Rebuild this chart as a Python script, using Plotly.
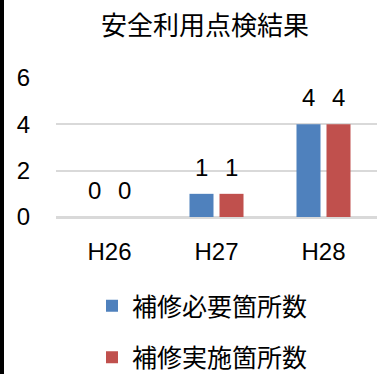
import plotly.graph_objects as go

categories = ["H26", "H27", "H28"]
series_names = ["補修必要箇所数", "補修実施箇所数"]
need_values = [0, 1, 4]
done_values = [0, 1, 4]
y_ticks = [0, 2, 4, 6]
title_text = "安全利用点検結果"

colors = ["#4F81BD", "#C0504D"]
label_font = "Liberation Sans, Arial, sans-serif"
cjk_font = "Noto Sans CJK JP, sans-serif"

W, H = 383, 374
ML, MR, MT, MB = 56, 6, 78, 157
PW, PH = W - ML - MR, H - MT - MB

fig = go.Figure()
for i, (name, vals) in enumerate(zip(series_names, [need_values, done_values])):
    fig.add_trace(go.Bar(
        x=categories, y=vals, name=name,
        marker=dict(color=colors[i], line=dict(width=0)),
        legendgroup=name,
    ))

# data labels above bars
for i, vals in enumerate([need_values, done_values]):
    for c, v in zip(categories, vals):
        fig.add_annotation(
            x=c, y=v, text=str(v), showarrow=False,
            xshift=-15 if i == 0 else 15, yshift=11,
            yanchor="bottom", xanchor="center",
            font=dict(family=label_font, size=24, color="#000000"),
        )

# left black border of the frame
fig.add_shape(type="rect", xref="paper", yref="paper",
              x0=-(ML + 20) / PW, x1=-(ML - 4) / PW,
              y0=-(MB + 20) / PH, y1=1 + (MT + 20) / PH,
              fillcolor="#000000", line=dict(width=0), layer="above")

fig.update_layout(
    template="none",
    width=W, height=H,
    margin=dict(l=ML, r=MR, t=MT, b=MB, autoexpand=False),
    paper_bgcolor="#ffffff", plot_bgcolor="#ffffff",
    barmode="group", bargap=0.439, bargroupgap=0.2,
    title=dict(text=title_text, x=205/W, xanchor="center",
               xref="container", y=1-26/H, yanchor="middle", yref="container",
               font=dict(family=cjk_font, size=26, color="#000000")),
    showlegend=True,
    legend=dict(
        x=(92 - ML) / PW, xanchor="left", y=-(283 - (MT + PH)) / PH, yanchor="top",
        font=dict(family=cjk_font, size=25, color="#000000"),
        traceorder="grouped", tracegroupgap=16, orientation="v",
        bgcolor="rgba(0,0,0,0)", borderwidth=0,
    ),
    xaxis=dict(
        showgrid=False, showline=False, zeroline=False, automargin=False,
        tickfont=dict(family=label_font, size=24, color="#000000"),
        ticks="", ticklabelstandoff=18,
    ),
    yaxis=dict(
        range=[0, 6], tickvals=y_ticks, automargin=False,
        showgrid=True, gridcolor="#D9D9D9", gridwidth=1.5,
        zeroline=True, zerolinecolor="#D9D9D9", zerolinewidth=3,
        showline=False,
        tickfont=dict(family=label_font, size=24, color="#000000"),
        ticks="", ticklabelstandoff=25,
    ),
)

fig.write_html("out.html", config={"displayModeBar": False},
               post_script="document.body.style.margin='0';document.body.style.overflow='hidden';")
